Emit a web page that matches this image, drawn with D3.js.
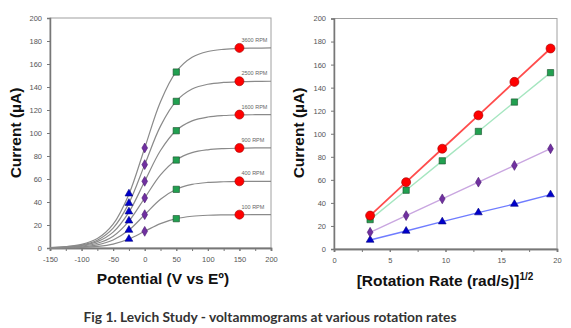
<!DOCTYPE html>
<html>
<head>
<meta charset="utf-8">
<script src="https://cdn.jsdelivr.net/npm/d3@7"></script>
<style>
body{margin:0;background:#fff;}
svg{display:block;}
</style>
</head>
<body>
<svg></svg>
<script>
var width = 571;
var height = 328;

// rotation rates
var rpmLabels = ['100 RPM','400 RPM','900 RPM','1600 RPM','2500 RPM','3600 RPM'];
var sqrtRate = [3.24, 6.47, 9.71, 12.95, 16.18, 19.42];

// voltammogram curves, read at every 25 mV
var potentials = [-150,-125,-100,-75,-50,-25,0,25,50,75,100,125,150,175,200];
var curve100  = [0.07,0.2,0.5,1.4,3.4,7.8,14.5,21.2,25.5,27.6,28.5,28.8,28.9,29,29];
var curve400  = [0.15,0.4,1.0,2.7,6.9,15.6,29,42.4,51.1,55.3,57,57.6,57.9,58,58];
var curve900  = [0.2,0.6,1.6,4.1,10.3,23.4,43.5,63.6,76.6,82.9,85.4,86.4,86.8,87,87];
var curve1600 = [0.3,0.8,2.1,5.5,13.8,31.2,58,84.8,102.2,110.5,113.9,115.2,115.7,115.9,116];
var curve2500 = [0.4,1.0,2.6,6.8,17.3,39,72.5,106,127.7,138.2,142.4,144,144.6,144.9,145];
var curve3600 = [0.4,1.2,3.1,8.2,20.7,46.8,87,127.2,153.3,165.8,170.9,172.8,173.6,173.8,174];

// currents at the marked potentials (one value per rotation rate)
var atMinus25 = [7.8,15.6,23.7,31.6,39,47.2];
var atZero    = [14.5,29,43.5,58,72.5,87];
var atFifty   = [25.5,51,76.5,102,127.5,153];
var at150     = [29,58,87,116,145,174];

var xTicksLeft = [-150,-100,-50,0,50,100,150,200];
var yTicks = [0,20,40,60,80,100,120,140,160,180,200];
var xTicksRight = [0,5,10,15,20];

var svg = d3.select('svg').attr('width',width).attr('height',height);

var markerSets = [
  {vals:atMinus25, x:-25, shape:d3.symbolTriangle, size:26, fill:'#0000cc', stroke:'#000080', line:'#6f7cff'},
  {vals:atZero,    x:0,   shape:d3.symbolDiamond,  size:28, fill:'#7030a0', stroke:'#4a1a70', line:'#c9a6e0'},
  {vals:atFifty,   x:50,  shape:d3.symbolSquare,   size:40, fill:'#21a050', stroke:'#1a4d2a', line:'#a6e6c0'},
  {vals:at150,     x:150, shape:d3.symbolCircle,   size:64, fill:'#ff0000', stroke:'#a00000', line:'#ff4d4d'}
];

function frame(g, x, y, xt, yt, minor){
  var r = x.range(), t = y.range();
  g.append('rect')
    .attr('x',r[0]).attr('y',t[1])
    .attr('width',r[1]-r[0]).attr('height',t[0]-t[1])
    .attr('fill','none').attr('stroke','#a0a0a0').attr('stroke-width',1);
  var xa = g.append('g').attr('transform',`translate(0,${t[0]})`)
    .call(d3.axisBottom(x).tickValues(minor).tickSize(3).tickFormat(''));
  var xl = g.append('g').attr('transform',`translate(0,${t[0]})`)
    .call(d3.axisBottom(x).tickValues(xt).tickSize(3).tickPadding(6).tickFormat(d=>String(d)));
  var ya = g.append('g').attr('transform',`translate(${r[0]},0)`)
    .call(d3.axisLeft(y).tickValues(yt).tickSize(3).tickPadding(5));
  [xa,xl,ya].forEach(function(a){
    a.select('.domain').attr('stroke','#777').attr('stroke-width',1.5);
    a.selectAll('line').attr('stroke','#777');
    a.selectAll('text').attr('fill','#555').style('font-family','Liberation Sans, Arial').style('font-size','7.5px');
  });
}

// ---------- left chart ----------
var xL = d3.scaleLinear().domain([-150,200]).range([50,271]);
var yL = d3.scaleLinear().domain([0,200]).range([248,18]);
var left = svg.append('g');
frame(left, xL, yL, xTicksLeft, yTicks, d3.range(-150,201,25));

var curves = [curve100,curve400,curve900,curve1600,curve2500,curve3600];
var lineL = d3.line()
  .x((d,i)=>xL(potentials[i]))
  .y(d=>yL(d))
  .curve(d3.curveCatmullRom);
left.selectAll('path.curve')
  .data(curves)
  .enter()
  .append('path')
  .attr('class','curve')
  .attr('d',lineL)
  .attr('fill','none')
  .attr('stroke','#8a8a8a')
  .attr('stroke-width',1.2);

markerSets.forEach(function(m){
  left.selectAll(null)
    .data(m.vals)
    .enter()
    .append('path')
    .attr('d',d3.symbol().type(m.shape).size(m.size))
    .attr('transform',d=>`translate(${xL(m.x)},${yL(d)})`)
    .attr('fill',m.fill)
    .attr('stroke',m.stroke)
    .attr('stroke-width',0.6);
});

left.selectAll('text.rpm')
  .data(at150)
  .enter()
  .append('text')
  .attr('class','rpm')
  .attr('x',xL(150)+2)
  .attr('y',d=>yL(d)-6)
  .attr('fill','#666')
  .style('font-family','Liberation Sans, Arial')
  .style('font-size','5.5px')
  .text((d,i)=>rpmLabels[i]);

// ---------- right chart ----------
var xR = d3.scaleLinear().domain([0,20]).range([334,557]);
var yR = d3.scaleLinear().domain([0,200]).range([249,18.5]);
var right = svg.append('g');
frame(right, xR, yR, xTicksRight, yTicks, d3.range(0,20.1,2.5));

var lineR = d3.line().x((d,i)=>xR(sqrtRate[i])).y(d=>yR(d));
markerSets.forEach(function(m){
  right.append('path')
    .datum(m.vals)
    .attr('d',lineR)
    .attr('fill','none')
    .attr('stroke',m.line)
    .attr('stroke-width',m.x==150 ? 1.8 : 1.4);
});
markerSets.forEach(function(m){
  right.selectAll(null)
    .data(m.vals)
    .enter()
    .append('path')
    .attr('d',d3.symbol().type(m.shape).size(m.size))
    .attr('transform',(d,i)=>`translate(${xR(sqrtRate[i])},${yR(d)})`)
    .attr('fill',m.fill)
    .attr('stroke',m.stroke)
    .attr('stroke-width',0.6);
});

// ---------- titles ----------
var titleFont = 'Liberation Sans, Arial';
svg.append('text')
  .attr('text-anchor','middle')
  .attr('transform',`translate(21,133) rotate(-90)`)
  .attr('fill','#111')
  .style('font-family',titleFont).style('font-weight','bold').style('font-size','15.5px')
  .text('Current (µA)');
svg.append('text')
  .attr('text-anchor','middle')
  .attr('transform',`translate(304,133) rotate(-90)`)
  .attr('fill','#111')
  .style('font-family',titleFont).style('font-weight','bold').style('font-size','15.5px')
  .text('Current (µA)');
svg.append('text')
  .attr('text-anchor','middle')
  .attr('x',163).attr('y',284)
  .attr('fill','#111')
  .style('font-family',titleFont).style('font-weight','bold').style('font-size','15.5px')
  .text('Potential (V vs Eº)');
var rt = svg.append('text')
  .attr('text-anchor','middle')
  .attr('x',445).attr('y',286)
  .attr('fill','#111')
  .style('font-family',titleFont).style('font-weight','bold').style('font-size','15.5px');
rt.append('tspan').text('[Rotation Rate (rad/s)]');
rt.append('tspan').attr('dy',-6).style('font-size','10px').text('1/2');

svg.append('text')
  .attr('text-anchor','middle')
  .attr('x',270).attr('y',322)
  .attr('fill','#333')
  .style('font-family','Lato, DejaVu Sans')
  .style('font-weight','bold')
  .style('font-size','12.5px')
  .attr('textLength',373)
  .attr('lengthAdjust','spacingAndGlyphs')
  .text('Fig 1. Levich Study - voltammograms at various rotation rates');
</script>
</body>
</html>
